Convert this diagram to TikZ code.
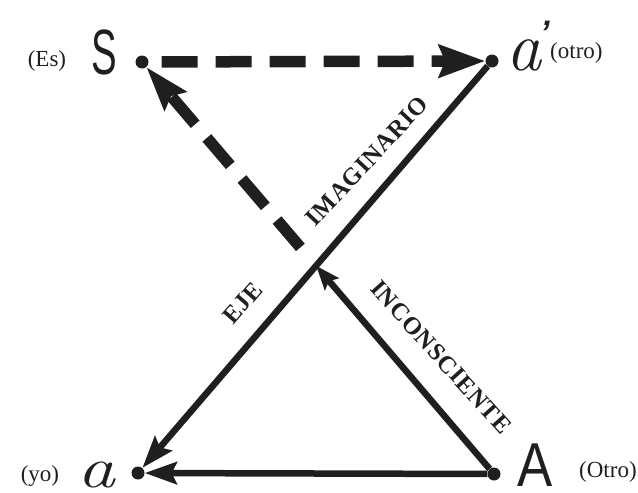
\documentclass[tikz,border=0pt]{standalone}
\usepackage{fontspec}
\setmainfont{Liberation Serif}
\newfontfamily\handfont{Liberation Sans}
\newfontfamily\lmfont{Latin Modern Roman}
\usetikzlibrary{arrows.meta,calc}
\begin{document}
\begin{tikzpicture}[x=1pt,y=-1pt,
  dot/.style={circle,fill=black!88,inner sep=0pt,minimum size=13pt},
  solidline/.style={draw=black!88,line width=6.5pt},
  dashline/.style={draw=black!88,line width=11.5pt,dash pattern=on 36pt off 18pt},
  lbl/.style={font=\fontsize{23}{25}\selectfont,inner sep=0pt,text=black!88},
  axislbl/.style={font=\bfseries\fontsize{24.5}{26}\selectfont\addfontfeature{LetterSpace=3},inner sep=0pt,text=black!88},
  bigletter/.style={font=\handfont\fontsize{64}{64}\selectfont,inner sep=0pt,text=black!88},
  smallletter/.style={font=\lmfont\itshape\fontsize{58}{58}\selectfont,inner sep=0pt,text=black!88}
]
\useasboundingbox (0,0) rectangle (638,493);
% corner points
\node[dot] (S) at (142,62) {};
\node[dot] (ap) at (492,61) {};
\node[dot] (a) at (138,473) {};
\node[dot] (A) at (494,474) {};
\coordinate (X) at (intersection of S--A and ap--a);
\coordinate (D) at ($(X)!0.09!(S)$);
% connectors
\draw[dashline,shorten <=13pt,-{Stealth[length=46pt,width=32pt,inset=6pt]}] (S) -- (ap);
\draw[solidline,-{Stealth[length=32pt,width=22pt,inset=5pt]}] (ap) -- (a);
\draw[solidline,-{Stealth[length=32pt,width=22pt,inset=5pt]}] (A) -- (a);
\draw[solidline,-{Stealth[length=24pt,width=18pt,inset=4pt]}] (A) -- (X);
\draw[dashline,-{Stealth[length=44pt,width=28pt,inset=6pt]}] (D) -- (S);
% letters
\node[bigletter,xscale=0.6] (Sl) at (104,52) {S};
\node[lbl] (Es) at (47,61) {(Es)};
\node[smallletter,font=\lmfont\itshape\fontsize{70}{70}\selectfont,anchor=base west] (apl) at (506,70) {a\kern-1pt\raisebox{26pt}{\handfont\bfseries\fontsize{34}{34}\selectfont ’}};
\node[lbl,anchor=west] (otro) at (550,53) {(otro)};
\node[smallletter,xscale=1.3] (al) at (96,475) {a};
\node[lbl] (yo) at (40,476) {(yo)};
\node[bigletter,xscale=0.85,font=\handfont\fontsize{62}{62}\selectfont] (Al) at (535,465) {A};
\node[lbl,anchor=west] (Otro) at (579,472) {(Otro)};
% axis labels
\node[axislbl,rotate=47] (imag) at (367,161) {IMAGINARIO};
\node[axislbl,rotate=49] (eje) at (243,303) {EJE};
\node[axislbl,rotate=-48] (incon) at (441,357) {INCONSCIENTE};
\end{tikzpicture}
\end{document}
